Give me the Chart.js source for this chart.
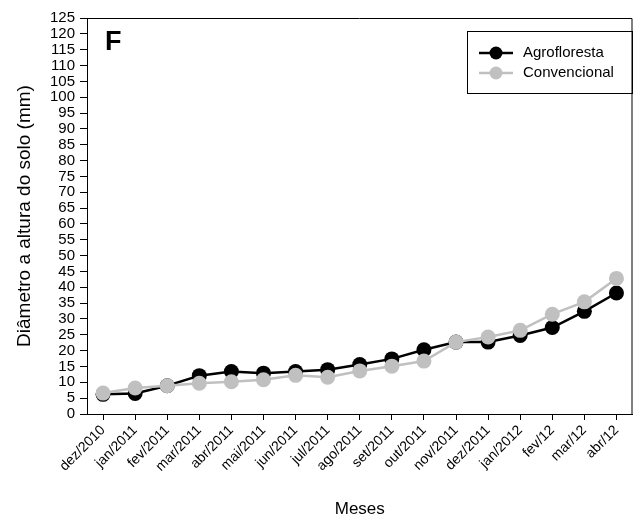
<!DOCTYPE html>
<html lang="pt">
<head>
<meta charset="UTF-8">
<title>Diâmetro a altura do solo</title>
<script src="https://cdn.jsdelivr.net/npm/chart.js"></script>
<style>
  html, body { margin: 0; padding: 0; background: #fff; }
  #wrap { width: 640px; height: 521px; }
</style>
</head>
<body>
<div id="wrap"><canvas id="chart"></canvas></div>
<script>
const months = ['dez/2010', 'jan/2011', 'fev/2011', 'mar/2011', 'abr/2011', 'mai/2011', 'jun/2011',
  'jul/2011', 'ago/2011', 'set/2011', 'out/2011', 'nov/2011', 'dez/2011', 'jan/2012', 'fev/12', 'mar/12', 'abr/12'];
const agrofloresta = [6.2, 6.5, 8.9, 12.1, 13.4, 12.9, 13.4, 14.0, 15.6, 17.4, 20.3, 22.7, 22.7, 24.8, 27.3, 32.4, 38.2];
const convencional = [6.6, 8.2, 8.9, 9.7, 10.2, 10.8, 12.2, 11.6, 13.6, 15.1, 16.7, 22.7, 24.3, 26.4, 31.5, 35.4, 42.8];
const seriesNames = ['Agrofloresta', 'Convencional'];
const seriesColors = ['#000000', '#c0c0c0'];

Chart.defaults.font.family = '"Liberation Sans", Arial, sans-serif';
Chart.defaults.color = '#000';

// frame, panel letter and the legend box inside the plot
const extras = {
  id: 'extras',
  afterDraw(chart) {
    const ctx = chart.ctx;
    const a = chart.chartArea;
    ctx.save();
    ctx.strokeStyle = '#000';
    ctx.lineWidth = 1;
    ctx.beginPath();
    ctx.moveTo(a.left, a.top + 0.5);
    ctx.lineTo(a.right - 0.5, a.top + 0.5);
    ctx.lineTo(a.right - 0.5, a.bottom);
    ctx.stroke();

    ctx.font = 'bold 27px "Liberation Sans", Arial, sans-serif';
    ctx.fillStyle = '#000';
    ctx.textBaseline = 'middle';
    ctx.fillText('F', 105, 43);

    ctx.strokeRect(467.5, 31.5, 165, 62);
    ctx.font = '15px "Liberation Sans", Arial, sans-serif';
    seriesNames.forEach((name, i) => {
      const y = 53 + i * 20;
      ctx.strokeStyle = seriesColors[i];
      ctx.lineWidth = 2.5;
      ctx.beginPath();
      ctx.moveTo(479, y);
      ctx.lineTo(513, y);
      ctx.stroke();
      ctx.fillStyle = seriesColors[i];
      ctx.beginPath();
      ctx.arc(496, y, 6.5, 0, Math.PI * 2);
      ctx.fill();
      ctx.fillStyle = '#000';
      ctx.fillText(name, 523, y);
    });
    ctx.restore();
  }
};

new Chart(document.getElementById('chart'), {
  type: 'line',
  data: {
    labels: months,
    datasets: [
      {
        label: seriesNames[0],
        data: agrofloresta,
        borderColor: seriesColors[0],
        backgroundColor: seriesColors[0],
        borderWidth: 2.5,
        pointRadius: 7.5,
        pointBorderWidth: 0,
        tension: 0,
        order: 2
      },
      {
        label: seriesNames[1],
        data: convencional,
        borderColor: seriesColors[1],
        backgroundColor: seriesColors[1],
        borderWidth: 2.5,
        pointRadius: 7.5,
        pointBorderWidth: 0,
        tension: 0,
        order: 1
      }
    ]
  },
  options: {
    responsive: true,
    maintainAspectRatio: false,
    animation: false,
    layout: { padding: { top: 18, right: 2, left: 0, bottom: 0 } },
    plugins: {
      legend: { display: false },
      tooltip: { enabled: false }
    },
    scales: {
      x: {
        offset: true,
        grid: { drawOnChartArea: false, drawTicks: true, tickLength: 6, color: '#000' },
        border: { display: true, color: '#000', width: 1 },
        ticks: { font: { size: 14 }, maxRotation: 45, minRotation: 45, autoSkip: false, padding: 2 },
        title: { display: true, text: 'Meses', font: { size: 17 }, padding: { top: 0, bottom: 1 } },
        afterFit(scale) { scale.height = 107; }
      },
      y: {
        min: 0,
        max: 125,
        grid: { drawOnChartArea: false, drawTicks: true, tickLength: 7, color: '#000' },
        border: { display: true, color: '#000', width: 1 },
        ticks: { stepSize: 5, autoSkip: false, font: { size: 15 }, padding: 5 },
        title: { display: true, text: 'Diâmetro a altura do solo (mm)', font: { size: 19 }, padding: { top: 13, bottom: 0 } },
        afterFit(scale) { scale.width = 87; }
      }
    }
  },
  plugins: [extras]
});
</script>
</body>
</html>
